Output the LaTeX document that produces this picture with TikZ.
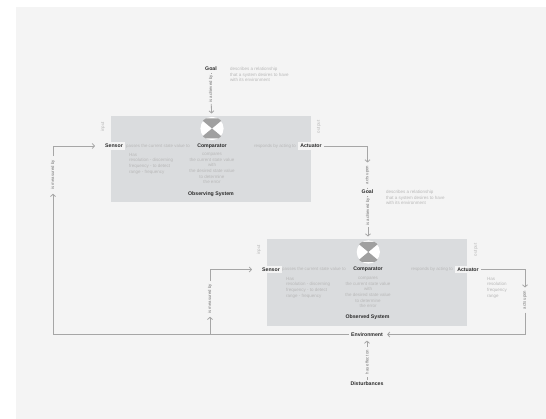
\documentclass[tikz,border=0pt]{standalone}
\usepackage{fontspec}
\setmainfont{Liberation Sans}
\usetikzlibrary{arrows.meta}
\definecolor{bgc}{HTML}{F4F4F4}
\definecolor{boxc}{HTML}{DADCDE}
\definecolor{linec}{HTML}{A6A6A6}
\definecolor{softc}{HTML}{B8B8B8}
\definecolor{dk}{HTML}{2A2A2A}
\definecolor{wedge}{HTML}{A0A0A0}
\tikzset{
 sysbox/.style={fill=boxc,draw=none,inner sep=0pt},
 term/.style={font=\fontsize{5.2}{6}\selectfont\bfseries,text=dk,inner sep=2pt,fill=bgc},
 termb/.style={font=\fontsize{5.2}{6}\selectfont\bfseries,text=dk,inner sep=1pt},
 note/.style={font=\fontsize{4.5}{5.6}\selectfont,text=softc,align=left,inner sep=0pt},
 notec/.style={font=\fontsize{4.5}{5.6}\selectfont,text=softc,align=center,inner sep=0pt},
 rel/.style={font=\fontsize{4.4}{5}\selectfont,text=softc,inner sep=0.5pt},
 vrel/.style={font=\fontsize{4.3}{5}\selectfont,text=dk!65,inner sep=1pt,rotate=90},
 conn/.style={draw=linec,line width=0.8pt},
 arr/.style={conn,-{Straight Barb[length=2.2pt,width=5pt]}},
}
\begin{document}
\begin{tikzpicture}[x=1pt,y=-1pt]
\useasboundingbox (0,0) rectangle (546,419);
\fill[white] (0,0) rectangle (546,419);
\fill[bgc] (16,7) rectangle (546,419);
% boxes
\fill[boxc] (110.5,116) rectangle (311,202);
\fill[boxc] (267,239.5) rectangle (467,326);
% terms
\node[term] (sA) at (114,146) {Sensor};
\node[termb] (cA) at (212,146) {Comparator};
\node[term] (aA) at (311,146) {Actuator};
\node[term] (gA) at (211,69) {Goal};
\node[term] (gB) at (367.5,192) {Goal};
\node[term] (sB) at (271,269.5) {Sensor};
\node[termb] (cB) at (368,269.5) {Comparator};
\node[term] (aB) at (468,269.5) {Actuator};
\node[term] (env) at (367,334.5) {Environment};
\node[term] (dist) at (367,384) {Disturbances};
\node[termb] (tA) at (211,194) {Observing System};
\node[termb] (tB) at (367.5,317) {Observed System};
% comparator discs
\foreach \x/\y in {212/128.5,368.3/252}{
 \fill[white] (\x,\y) circle (11.6pt);
 \begin{scope}
  \clip (\x,\y) circle (12pt);
  \fill[wedge] (\x,\y) -- ++(-12,-10) -- ++(24,0) -- cycle;
  \fill[wedge] (\x,\y) -- ++(-12,10) -- ++(24,0) -- cycle;
 \end{scope}
}
\coordinate (cAtop) at (211.5,113.5);
\coordinate (cBtop) at (368,236.5);
% vertical relation labels
\node[vrel,inner ysep=2.5pt] (r1) at (211,89) {is achieved by};
\node[vrel,inner ysep=2.5pt] (r2) at (368,212) {is achieved by};
\node[vrel,inner xsep=3pt] (r3) at (367.5,175) {acts upon};
\node[vrel,inner xsep=3pt] (r4) at (525,300) {acts upon};
\node[vrel,inner xsep=4pt] (r5) at (53,175) {is measured by};
\node[vrel,inner xsep=3pt] (r6) at (210,299) {is measured by};
\node[vrel,inner xsep=3pt] (r7) at (367,362) {has effect on};
\coordinate (k4) at (53,334.5);
\coordinate (k6) at (210,334.5);
% connectors
\draw[conn] (gA) -- (r1);
\draw[arr] (r1) -- (cAtop);
\draw[conn] (gB) -- (r2);
\draw[arr] (r2) -- (cBtop);
\draw[arr] (aA) -| (r3);
\draw[conn] (r3) -- (gB);
\draw[arr] (aB) -| (r4);
\draw[arr,shorten >=2pt] (r4) |- (env);
\draw[conn] (env) -- (k4);
\draw[arr] (k4) -- (r5);
\draw[arr,shorten >=8pt] (r5) |- (sA);
\draw[arr] (k6) -- (r6);
\draw[arr,shorten >=8pt] (r6) |- (sB);
\draw[conn] (dist) -- (r7);
\draw[arr,shorten >=2pt] (r7) -- (env);
% horizontal relation labels
\node[rel] (h1) at (158,146) {passes the current state value to};
\node[rel] (h2) at (275,146) {responds by acting to};
\node[rel] (h3) at (314,269.5) {passes the current state value to};
\node[rel] (h4) at (432,269.5) {responds by acting to};
% notes
\node[note,anchor=north west] (n1) at (230,67) {describes a relationship\\that a system desires to have\\with its environment};
\node[note,anchor=north west] (n2) at (386,190) {describes a relationship\\that a system desires to have\\with its environment};
\node[note,anchor=north west] (n3) at (129,153) {Has\\resolution - discerning\\frequency - to detect\\range - frequency};
\node[note,anchor=north west] (n4) at (286,277) {Has\\resolution - discerning\\frequency - to detect\\range - frequency};
\node[notec,anchor=north] (n5) at (212,153) {compares\\the current state value\\with\\the desired state value\\to determine\\the error};
\node[notec,anchor=north] (n6) at (368,277) {compares\\the current state value\\with\\the desired state value\\to determine\\the error};
\node[note,anchor=north west] (n7) at (487,277) {Has\\resolution\\frequency\\range};
\node[note,rotate=90] (n8) at (103,127) {input};
\node[note,rotate=90] (n9) at (319,127) {output};
\node[note,rotate=90] (n10) at (259,250) {input};
\node[note,rotate=90] (n11) at (476,250) {output};
\end{tikzpicture}
\end{document}
